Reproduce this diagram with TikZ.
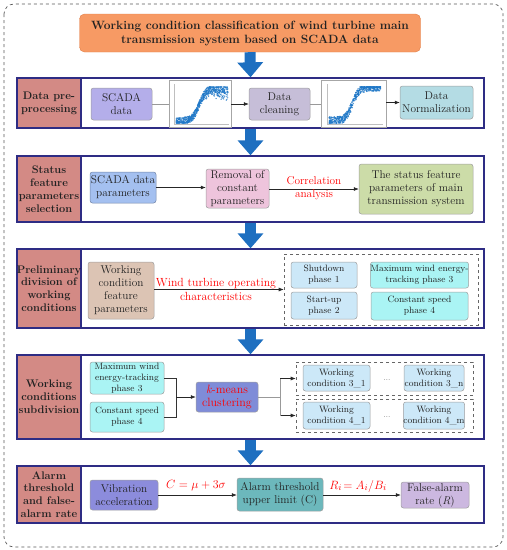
\documentclass[tikz,border=0pt]{standalone}
\usetikzlibrary{arrows.meta}
\definecolor{bandblue}{HTML}{2E2C84}
\definecolor{labred}{HTML}{D38A85}
\definecolor{arrblue}{HTML}{1E6FC0}
\definecolor{titleor}{HTML}{F79A64}
\definecolor{titleed}{HTML}{E07E48}
\definecolor{cScada}{HTML}{B4AEEA}
\definecolor{cClean}{HTML}{C6BED8}
\definecolor{cNorm}{HTML}{B4DCE4}
\definecolor{cPar}{HTML}{A4C0F0}
\definecolor{cRem}{HTML}{EEC4DC}
\definecolor{cStat}{HTML}{CCDCA8}
\definecolor{cWcfp}{HTML}{DCC4B4}
\definecolor{cPh}{HTML}{CCE8F8}
\definecolor{cCyan}{HTML}{AAF4F4}
\definecolor{cKm}{HTML}{7F8CD8}
\definecolor{cVib}{HTML}{8C8CDC}
\definecolor{cAlarm}{HTML}{6CB8BC}
\definecolor{cFalse}{HTML}{CCB8E0}
\definecolor{dotblue}{HTML}{1F78C8}
\definecolor{txt}{HTML}{222222}
\tikzset{
  band/.style={draw=bandblue, line width=1.3pt, inner sep=0pt},
  lab/.style={fill=labred, draw=bandblue, line width=1.3pt, inner sep=0pt, align=center, text=txt,
    font=\fontsize{11}{12.8}\selectfont\bfseries},
  box/.style={draw=gray!75, rounded corners=2.5pt, align=center, inner sep=0pt, line width=0.5pt, text=txt,
    font=\fontsize{11.3}{13}\selectfont},
  sbox/.style={box, font=\fontsize{9.2}{11}\selectfont},
  grp/.style={draw=gray!80!black, dashed, line width=0.6pt, inner sep=0pt},
  arr/.style={-{Latex[length=5pt,width=4pt]}, draw=black!85, line width=0.6pt},
  ln/.style={draw=gray!80, line width=0.7pt},
  bigarr/.style={draw=arrblue, line width=11pt, -{Triangle[width=25pt,length=15pt]}},
  redt/.style={text=red, align=center, font=\fontsize{11.3}{12.5}\selectfont},
  plotbox/.style={draw=gray!70, fill=white, line width=0.6pt, inner sep=0pt}
}
\begin{document}
\begin{tikzpicture}[x=1pt,y=-1pt]
\useasboundingbox (0,0) rectangle (507,550);
\draw[dashed, gray!70!black, line width=0.7pt, rounded corners=10pt] (4,4) rectangle (503,547);

% title
\node[fill=titleor, draw=titleed, rounded corners=5pt, minimum width=341pt, minimum height=38pt, align=center,
  font=\fontsize{12}{14}\selectfont\bfseries, text=txt, inner sep=0pt] (title) at (250,33)
  {Working condition classification of wind turbine main\\transmission system based on SCADA data};

% bands
\node[band, minimum width=467pt, minimum height=50pt] (b1) at (250.5,103) {};
\node[band, minimum width=467pt, minimum height=66pt] (b2) at (250.5,189) {};
\node[band, minimum width=467pt, minimum height=79pt] (b3) at (250.5,288.5) {};
\node[band, minimum width=467pt, minimum height=84pt] (b4) at (250.5,397) {};
\node[band, minimum width=467pt, minimum height=57pt] (b5) at (250.5,494.5) {};

\node[lab, minimum width=64pt, minimum height=50pt] (l1) at (49,103) {Data pre-\\processing};
\node[lab, minimum width=64pt, minimum height=66pt] (l2) at (49,189) {Status\\feature\\parameters\\selection};
\node[lab, minimum width=64pt, minimum height=79pt] (l3) at (49,288.5) {Preliminary\\division of\\working\\conditions};
\node[lab, minimum width=64pt, minimum height=84pt] (l4) at (49,397) {Working\\conditions\\subdivision};
\node[lab, minimum width=64pt, minimum height=57pt] (l5) at (49,494.5) {Alarm\\threshold\\and false-\\alarm rate};

% big arrows
\draw[bigarr] (title.south) -- (b1.north);
\draw[bigarr] (b1.south) -- (b2.north);
\draw[bigarr] (b2.south) -- (b3.north);
\draw[bigarr] (b3.south) -- (b4.north);
\draw[bigarr] (b4.south) -- (b5.north);

% band 1
\node[box, fill=cScada, minimum width=61pt, minimum height=32pt] (scada) at (121.5,104) {SCADA\\data};
\node[plotbox, minimum width=62pt, minimum height=47pt] (p1) at (200,103.5) {};
\node[box, fill=cClean, minimum width=61pt, minimum height=32pt] (clean) at (279.5,104) {Data\\cleaning};
\node[plotbox, minimum width=65pt, minimum height=47pt] (p2) at (353.5,103.5) {};
\node[box, fill=cNorm, minimum width=73pt, minimum height=33pt] (norm) at (436.5,102.5) {Data\\Normalization};
\draw[ln] (scada.east) -- (scada.east -| p1.west);
\draw[arr] (p1.east |- clean.west) -- (clean.west);
\draw[ln] (clean.east) -- (clean.east -| p2.west);
\draw[arr] (p2.east |- norm.west) -- (norm.west);

% scatter plots
\draw[gray!50, line width=0.3pt] (174,84) -- (174,124) -- (229,124);
\draw[gray!50, line width=0.3pt] (327,84) -- (327,124) -- (383,124);
\pgfmathsetseed{7}
\foreach \i in {1,...,700}{
  \pgfmathsetmacro{\t}{rnd}
  \pgfmathsetmacro{\s}{1/(1+exp(-(\t-0.45)*15))}
  \pgfmathsetmacro{\n}{(rnd-0.5)*7 + (\t>0.45 ? rnd*rnd*32*(\t-0.4) : 0)}
  \pgfmathsetmacro{\xx}{176+\t*52}
  \pgfmathsetmacro{\yy}{min(123, max(87, 121-\s*34+\n))}
  \fill[dotblue, opacity=0.8] (\xx,\yy) circle (0.7pt);
}
\pgfmathsetseed{11}
\foreach \i in {1,...,600}{
  \pgfmathsetmacro{\t}{rnd}
  \pgfmathsetmacro{\s}{1/(1+exp(-(\t-0.45)*15))}
  \pgfmathsetmacro{\n}{(rnd-0.5)*8}
  \pgfmathsetmacro{\xx}{329+\t*52}
  \pgfmathsetmacro{\yy}{min(123, max(87, 121-\s*34+\n))}
  \fill[dotblue, opacity=0.8] (\xx,\yy) circle (0.7pt);
}

% band 2
\node[box, fill=cPar, draw=cPar!70!black, minimum width=66pt, minimum height=31pt] (par) at (123,187.5) {SCADA data\\parameters};
\node[box, fill=cRem, minimum width=63pt, minimum height=39pt] (rem) at (237.5,188.5) {Removal of\\constant\\parameters};
\node[box, fill=cStat, minimum width=114pt, minimum height=50pt] (stat) at (416,189) {The status feature\\parameters of main\\transmission system};
\draw[arr] (par.east) -- (par.east -| rem.west);
\draw[arr] (rem.east |- stat.west) -- (stat.west);
\node[redt, font=\fontsize{11.3}{13.5}\selectfont] (corr) at (314,188) {Correlation\\analysis};

% band 3
\node[box, fill=cWcfp, minimum width=66pt, minimum height=57pt] (wcfp) at (121,290.5) {Working\\condition\\feature\\parameters};
\node[grp, minimum width=194pt, minimum height=71pt] (g0) at (381,289.5) {};
\node[sbox, fill=cPh, minimum width=66pt, minimum height=26pt] (shut) at (324,275) {Shutdown\\phase 1};
\node[sbox, fill=cPh, minimum width=66pt, minimum height=27pt] (start) at (324,305.5) {Start-up\\phase 2};
\node[sbox, fill=cCyan, minimum width=97pt, minimum height=26pt] (maxw) at (419.5,275) {Maximum wind energy-\\tracking phase 3};
\node[sbox, fill=cCyan, minimum width=97pt, minimum height=28pt] (cons) at (419.5,306) {Constant speed\\phase 4};
\draw[arr] (wcfp.east |- g0.west) -- (g0.west);
\node[redt, font=\fontsize{11.8}{14}\selectfont] (wtoc) at (216,289) {Wind turbine operating\\characteristics};

% band 4
\node[sbox, fill=cCyan, minimum width=74pt, minimum height=32pt] (ph3) at (127,378) {Maximum wind\\energy-tracking\\phase 3};
\node[sbox, fill=cCyan, minimum width=74pt, minimum height=30pt] (ph4) at (127,417) {Constant speed\\phase 4};
\node[box, fill=cKm, text=red, minimum width=62pt, minimum height=30pt, font=\fontsize{12}{13}\selectfont] (km) at (227,397) {\textit{k}-means\\clustering};
\node[grp, minimum width=177pt, minimum height=33pt] (g1) at (384.5,378.5) {};
\node[grp, minimum width=177pt, minimum height=33pt] (g2) at (384.5,415.5) {};
\node[sbox, fill=cPh, minimum width=67pt, minimum height=26pt] (w31) at (336.5,378) {Working\\condition 3\_1};
\node[sbox, fill=cPh, minimum width=60pt, minimum height=26pt] (w3n) at (434,378) {Working\\condition 3\_n};
\node[sbox, fill=cPh, minimum width=67pt, minimum height=27pt] (w41) at (336.5,415.5) {Working\\condition 4\_1};
\node[sbox, fill=cPh, minimum width=60pt, minimum height=27pt] (w4m) at (434,415.5) {Working\\condition 4\_m};
\node[font=\fontsize{7}{8}\selectfont, text=txt] (d3) at (387,380) {...};
\node[font=\fontsize{7}{8}\selectfont, text=txt] (d4) at (387,417) {...};
\coordinate (j1) at (176,397);
\coordinate (j2) at (280,397);
\draw[black!80, line width=0.6pt] (ph3.east) -| (j1);
\draw[black!80, line width=0.6pt] (ph4.east) -| (j1);
\draw[arr] (j1) -- (km.west);
\draw[ln] (km.east) -- (j2);
\draw[arr] (j2) |- (g1.west);
\draw[arr] (j2) |- (g2.west);
\draw[ln] (j2 |- g1.west) -- (j2 |- g2.west);

% band 5
\node[box, fill=cVib, minimum width=68pt, minimum height=30pt] (vib) at (124,495) {Vibration\\acceleration};
\node[box, fill=cAlarm, minimum width=86pt, minimum height=33pt] (alarm) at (280,494.5) {Alarm threshold\\upper limit (C)};
\node[box, fill=cFalse, minimum width=68pt, minimum height=26pt] (false) at (435,495) {False-alarm\\rate (\textit{R})};
\draw[arr] (vib.east) -- (vib.east -| alarm.west);
\draw[arr] (alarm.east |- false.west) -- (false.west);
\node[text=red, font=\fontsize{12.5}{14}\selectfont] (f1) at (196,486) {$C=\mu+3\sigma$};
\node[text=red, font=\fontsize{12.5}{14}\selectfont] (f2) at (358,486) {$R_i\!= A_i\big/B_i$};
\end{tikzpicture}
\end{document}
